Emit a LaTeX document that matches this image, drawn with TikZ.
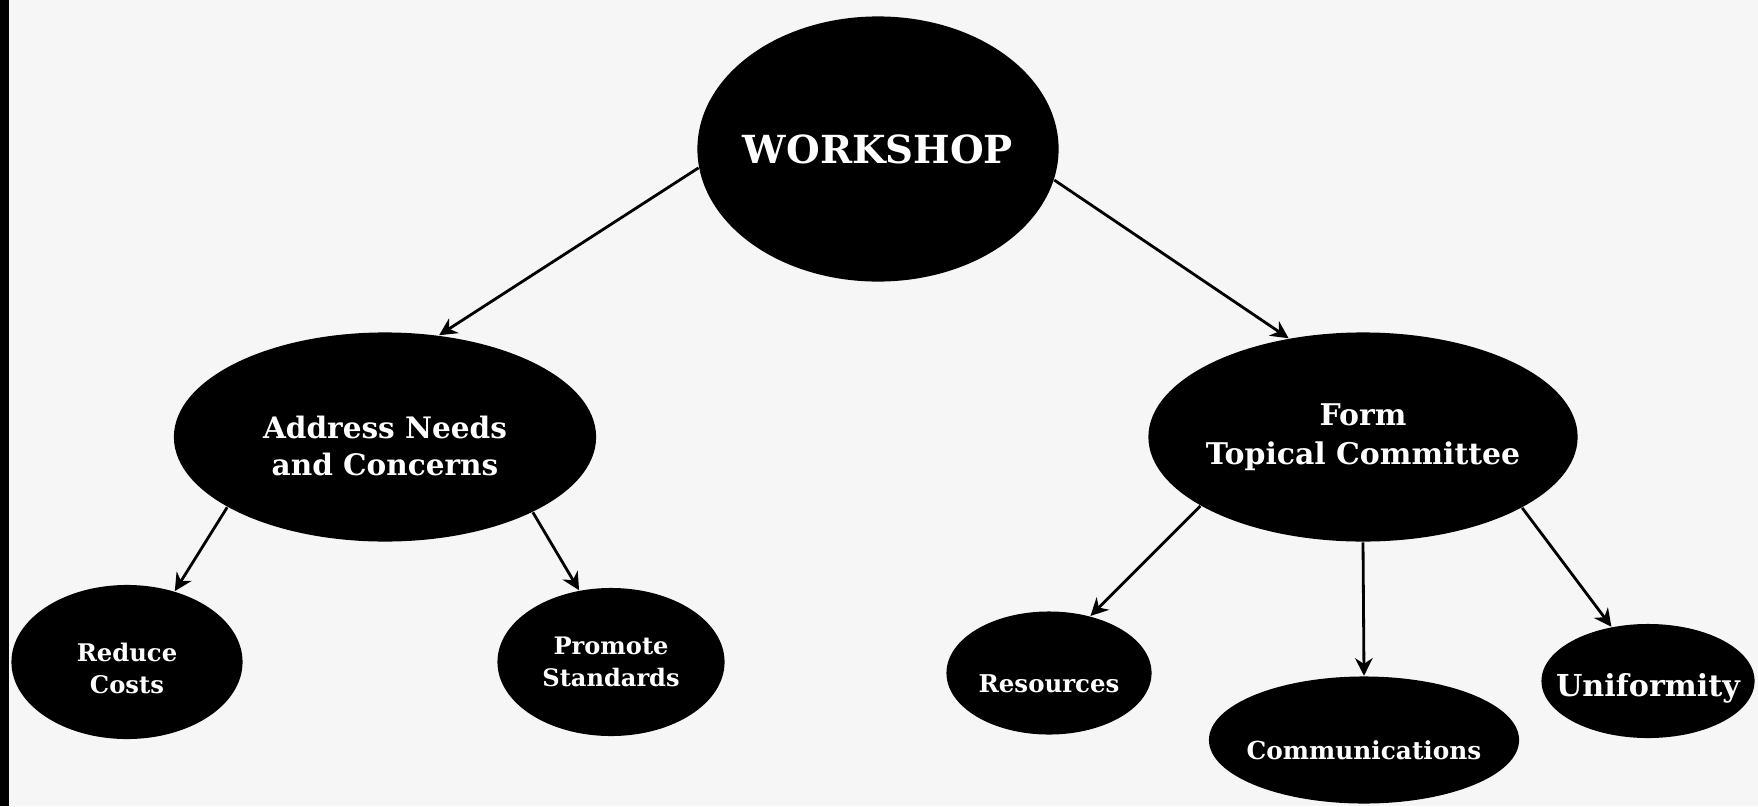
\documentclass[tikz,border=0pt]{standalone}
\usepackage{fontspec}
\setmainfont{DejaVu Serif}
\usetikzlibrary{shapes.geometric,arrows.meta}
\definecolor{paper}{HTML}{F6F6F6}

\begin{document}
\begin{tikzpicture}[x=0.01cm, y=-0.01cm,
    bubble/.style = {shape = ellipse, fill = black, text = white, inner xsep = -0.3cm, inner ysep = 0pt, align = center},
    link/.style = {-{Stealth[length=5pt, width=5pt]}, line width = 0.8pt}]
    \fill [paper] (0,0) rectangle (1758,806);
    \fill [black] (0,0) rectangle (9,806);

    \node [bubble, minimum width = 3.61cm, minimum height = 2.65cm, font = \bfseries\fontsize{11}{13}\selectfont] (work) at (878,149) {WORKSHOP};
    \node [bubble, minimum width = 4.22cm, minimum height = 2.09cm, font = \bfseries\fontsize{8.4}{10.5}\selectfont] (needs) at (385,437) {\rule{0pt}{11.4pt}Address Needs\\and Concerns};
    \node [bubble, minimum width = 4.29cm, minimum height = 2.09cm, font = \bfseries\fontsize{8.5}{11}\selectfont] (comm) at (1363,437) {Form\\Topical Committee};
    \node [bubble, minimum width = 2.31cm, minimum height = 1.54cm, font = \bfseries\fontsize{6.9}{9}\selectfont] (costs) at (127,662) {\rule{0pt}{9pt}Reduce\\Costs};
    \node [bubble, minimum width = 2.27cm, minimum height = 1.48cm, font = \bfseries\fontsize{6.85}{9}\selectfont] (stand) at (611,662) {Promote\\Standards};
    \node [bubble, minimum width = 2.05cm, minimum height = 1.23cm, font = \bfseries\fontsize{6.95}{9}\selectfont] (res) at (1049,673) {\rule{0pt}{11.3pt}Resources};
    \node [bubble, minimum width = 3.10cm, minimum height = 1.27cm, font = \bfseries\fontsize{7.05}{9}\selectfont] (talk) at (1364,740) {\rule{0pt}{11.4pt}Communications};
    \node [bubble, minimum width = 2.13cm, minimum height = 1.14cm, font = \bfseries\fontsize{8.6}{10}\selectfont] (unif) at (1648,681) {\rule{0pt}{10.5pt}Uniformity};

    \draw [link] (work.186) to (needs.62);
    \draw [link] (work.-10.6) to (comm.127);
    \draw [link] (needs.204) to (costs.56);
    \draw [link] (needs.-27) to (stand.114);
    \draw [link] (comm.203) to (res.54);
    \draw [link] (comm.south) to (talk.north);
    \draw [link] (comm.-24) to (unif.124);
\end{tikzpicture}
\end{document}
